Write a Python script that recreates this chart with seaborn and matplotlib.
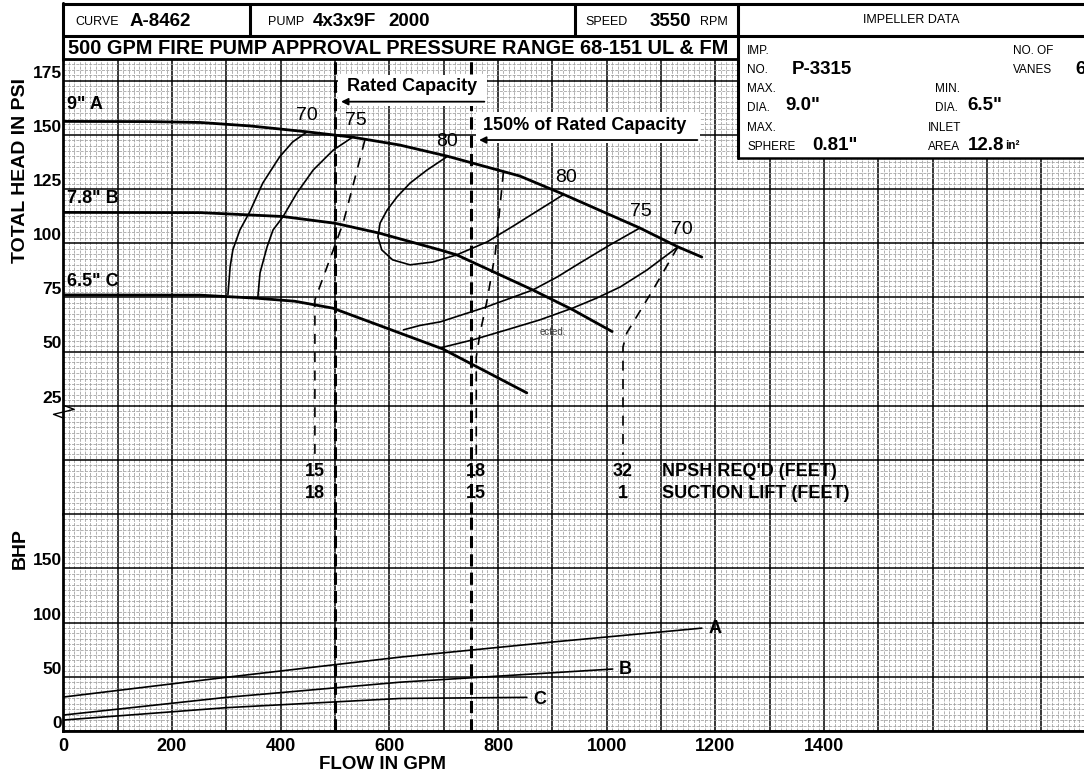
import matplotlib
matplotlib.use('Agg')
import matplotlib.pyplot as plt
import seaborn as sns
from matplotlib.lines import Line2D
from matplotlib.patches import Rectangle
from matplotlib.ticker import MultipleLocator

# head-capacity curves for the three impeller diameters (flow GPM, head PSI)
flow_a = [0, 160, 252, 344, 448, 533, 619, 706, 840, 919, 1061, 1131, 1175]
head_a = [156.2, 156.1, 155.7, 154.1, 151.4, 148.9, 145.3, 140.2, 131.0, 122.7, 107.0, 98.3, 93.6]
flow_b = [0, 252, 404, 500, 582, 693, 724, 864, 938, 1010]
head_b = [114.2, 114.1, 112.3, 109.2, 104.6, 96.9, 94.6, 78.4, 69.2, 59.2]
flow_c = [0, 252, 356, 426, 496, 698, 853]
head_c = [76.1, 76.0, 74.6, 73.2, 70.0, 51.2, 30.9]

# iso-efficiency lines
eff70l_q = [303, 307, 312, 325, 343, 367, 398, 422, 448]
eff70l_h = [76.3, 89.0, 96.9, 106.1, 114.4, 127.7, 139.8, 146.7, 151.3]
eff75l_q = [358, 362, 375, 386, 404, 430, 460, 497, 533]
eff75l_h = [75.0, 86.3, 98.3, 106.1, 112.1, 123.2, 133.8, 143.0, 149.0]
eff80_q = [706, 669, 638, 614, 596, 583, 579, 586, 606, 638, 680, 724, 780, 828, 919]
eff80_h = [139.9, 133.7, 127.7, 121.3, 115.3, 109.3, 102.9, 96.9, 92.3, 90.0, 91.3, 94.6, 100.6, 107.9, 122.2]
eff75r_q = [1061, 1006, 951, 909, 864, 779, 694, 656, 626]
eff75r_h = [107.0, 99.2, 90.9, 84.4, 78.4, 70.6, 63.7, 62.0, 60.0]
eff70r_q = [1131, 1074, 1025, 982, 938, 877, 816, 754, 694]
eff70r_h = [98.3, 87.6, 79.8, 74.7, 70.1, 64.6, 60.0, 55.4, 51.7]

# NPSH required lines (dashed)
npsh1_q = [555, 515, 463, 463]
npsh1_h = [147.6, 109.3, 73.8, 2.3]
npsh2_q = [810, 795, 780, 767, 760, 760]
npsh2_h = [132.9, 95.5, 73.8, 58.6, 47.5, 0]
npsh3_q = [1131, 1085, 1037, 1030, 1030]
npsh3_h = [98.3, 78.4, 58.6, 52.1, 2.3]
npsh_req = ['15', '18', '32']
suction_lift = ['18', '15', '1']

# brake horsepower curves
bhp_a_q = [0, 300, 620, 900, 1175]
bhp_a = [31.3, 49.5, 68.1, 82.0, 94.8]
bhp_b_q = [0, 300, 620, 1011]
bhp_b = [14.7, 31.0, 45.0, 57.1]
bhp_c_q = [0, 300, 620, 853]
bhp_c = [10.1, 21.5, 30.0, 31.0]

rated_flow = 500
flow_150 = 750

sns.set_style('white')
plt.rcParams['font.family'] = ['Liberation Sans', 'DejaVu Sans']
plt.rcParams['text.color'] = 'black'
plt.rcParams['xtick.color'] = 'black'
plt.rcParams['ytick.color'] = 'black'
plt.rcParams['axes.labelcolor'] = 'black'

W, H = 1084, 778
fig = plt.figure(figsize=(W / 100, H / 100), dpi=100)


def fx(px):
    return px / W


def fy(py):
    return 1 - py / H


X0 = 63.3
ax_h = fig.add_axes([fx(X0), fy(514), 1 - fx(X0), (514 - 59) / H])
ax_b = fig.add_axes([fx(X0), fy(731), 1 - fx(X0), (731 - 514) / H])
qmax = (W - X0) / 0.5434

for ax in (ax_h, ax_b):
    ax.set_xlim(0, qmax)
    ax.set_axisbelow(True)
    ax.xaxis.set_minor_locator(MultipleLocator(10))
    ax.grid(which='major', color='black', lw=1.1)
    ax.grid(which='minor', color='#9c9c9c', lw=0.55, ls=(0, (4, 1.6)))
    ax.tick_params(which='both', length=0)
    for s in ax.spines.values():
        s.set_color('black')
        s.set_linewidth(2)
    ax.spines['right'].set_visible(False)

ax_h.spines['bottom'].set_visible(False)
ax_b.spines['top'].set_visible(False)

# head axis
ax_h.set_ylim(-25, 185)
ax_h.yaxis.set_minor_locator(MultipleLocator(2.5))
head_ticks = list(range(-25, 176, 25))
ax_h.set_yticks(head_ticks, labels=[str(t) if t > 0 else '' for t in head_ticks],
                va='bottom', fontweight='bold', fontsize=12.5)
ax_h.set_xticks(range(0, 1879, 100))
ax_h.tick_params(labelbottom=False, pad=1)
ax_h.set_ylabel('TOTAL HEAD IN PSI', fontweight='bold', fontsize=14)
ax_h.yaxis.set_label_coords(-0.034, 0.755)

# bhp axis
ax_b.set_ylim(0, 200)
ax_b.yaxis.set_minor_locator(MultipleLocator(5))
ax_b.set_yticks([0, 50, 100, 150, 200], labels=['0', '50', '100', '150', ''],
                va='bottom', fontweight='bold', fontsize=12.5)
xt = list(range(0, 1879, 100))
ax_b.set_xticks(xt, labels=[str(t) if t % 200 == 0 and t <= 1400 else '' for t in xt],
                fontweight='bold', fontsize=13)
ax_b.tick_params(axis='y', pad=1)
ax_b.tick_params(axis='x', pad=5)
ax_b.set_ylabel('BHP', fontweight='bold', fontsize=14)
ax_b.yaxis.set_label_coords(-0.034, 0.84)
ax_b.set_xlabel('FLOW IN GPM', fontweight='bold', fontsize=13.5)
ax_b.xaxis.set_label_coords(0.313, -0.115)

# curves
for q, h in [(flow_a, head_a), (flow_b, head_b), (flow_c, head_c)]:
    sns.lineplot(x=q, y=h, ax=ax_h, color='black', linewidth=2.0, sort=False, estimator=None, zorder=5)
for q, h in [(eff70l_q, eff70l_h), (eff75l_q, eff75l_h), (eff80_q, eff80_h),
             (eff75r_q, eff75r_h), (eff70r_q, eff70r_h)]:
    sns.lineplot(x=q, y=h, ax=ax_h, color='black', linewidth=1.2, sort=False, estimator=None, zorder=5)
for q, h in [(npsh1_q, npsh1_h), (npsh2_q, npsh2_h), (npsh3_q, npsh3_h)]:
    sns.lineplot(x=q, y=h, ax=ax_h, color='black', linewidth=1.2, linestyle=(0, (6, 5)),
                 sort=False, estimator=None, zorder=5)
for q, b in [(bhp_a_q, bhp_a), (bhp_b_q, bhp_b), (bhp_c_q, bhp_c)]:
    sns.lineplot(x=q, y=b, ax=ax_b, color='black', linewidth=1.2, sort=False, estimator=None, zorder=5)

for ax in (ax_h, ax_b):
    for f in (rated_flow, flow_150):
        ax.axvline(f, color='black', lw=2.2, ls=(0, (4, 2)), zorder=6)

# labels on the head chart
lbl = dict(fontweight='bold', fontsize=13, va='center', ha='left', zorder=7)
ax_h.text(7, 163.8, '9" A', **lbl)
ax_h.text(7, 120.4, '7.8" B', **lbl)
ax_h.text(7, 82.1, '6.5" C', **lbl)
eff = dict(fontsize=14, ha='center', va='center', zorder=7)
ax_h.text(448, 158.7, '70', **eff)
ax_h.text(539, 156.4, '75', **eff)
ax_h.text(706, 146.7, '80', **eff)
ax_h.text(925, 130.5, '80', **eff)
ax_h.text(1063, 114.4, '75', **eff)
ax_h.text(1139, 106.1, '70', **eff)
ax_h.text(877, 59, 'ected.', fontsize=7, color='#444444', ha='left', va='center')

for q, r, s in zip([463, 760, 1030], npsh_req, suction_lift):
    ax_h.text(q, -5.5, r, ha='center', va='center', fontweight='bold', fontsize=13, zorder=7)
    ax_h.text(q, -15.7, s, ha='center', va='center', fontweight='bold', fontsize=13, zorder=7)
ax_h.text(1102, -5.5, "NPSH REQ'D (FEET)", ha='left', va='center', fontweight='bold', fontsize=13, zorder=7)
ax_h.text(1102, -15.7, 'SUCTION LIFT (FEET)', ha='left', va='center', fontweight='bold', fontsize=13, zorder=7)

# rated capacity callouts
ax_h.add_patch(Rectangle((506, 163.5), 274, 14.3, facecolor='white', edgecolor='none', zorder=6.5))
ax_h.text(641, 172.1, 'Rated Capacity', ha='center', va='center', fontweight='bold', fontsize=13, zorder=7)
ax_h.annotate('', xy=(506, 165.3), xytext=(780, 165.3),
              arrowprops=dict(arrowstyle='-|>', lw=1.3, color='black', mutation_scale=10), zorder=7)
ax_h.add_patch(Rectangle((760, 146.3), 412, 14.2, facecolor='white', edgecolor='none', zorder=6.5))
ax_h.text(960, 154.5, '150% of Rated Capacity', ha='center', va='center', fontweight='bold', fontsize=13, zorder=7)
ax_h.annotate('', xy=(760, 147.6), xytext=(1172, 147.6),
              arrowprops=dict(arrowstyle='-|>', lw=1.3, color='black', mutation_scale=10), zorder=7)

# axis break mark under 25
ax_h.plot([0, 20, -18, 0], [25.2, 23.3, 21.0, 19.3], color='black', lw=1, clip_on=False, zorder=8)

# bhp curve labels
bl = dict(fontweight='bold', fontsize=13, ha='center', va='center', zorder=7)
ax_b.text(1199, 94.9, 'A', **bl)
ax_b.text(1034, 57.1, 'B', **bl)
ax_b.text(877, 28.6, 'C', **bl)

# header block
tf = fig.transFigure


def hline(x1, x2, y, lw=2.2):
    fig.add_artist(Line2D([fx(x1), fx(x2)], [fy(y), fy(y)], transform=tf, color='black', lw=lw, zorder=10))


def vline(x, y1, y2, lw=2.2):
    fig.add_artist(Line2D([fx(x), fx(x)], [fy(y1), fy(y2)], transform=tf, color='black', lw=lw, zorder=10))


fig.add_artist(Rectangle((fx(738), fy(158)), 1 - fx(738), (158 - 36) / H, transform=tf,
                         facecolor='white', edgecolor='none', zorder=9))
hline(63, W, 4)
hline(63, W, 36)
hline(738, W, 158, lw=1.8)
vline(63, 3, 60)
vline(250, 4, 36)
vline(575, 4, 36)
vline(738, 4, 158)


def ftext(px, py, s, size=9, bold=False, **kw):
    fig.text(fx(px), fy(py), s, fontsize=size, fontweight='bold' if bold else 'normal',
             va='center', zorder=11, **kw)


ftext(75, 22, 'CURVE')
ftext(130, 21, 'A-8462', 13.5, True)
ftext(268, 22, 'PUMP')
ftext(313, 21, '4x3x9F', 13.5, True)
ftext(388, 21, '2000', 13.5, True)
ftext(585, 22, 'SPEED')
ftext(650, 21, '3550', 13.5, True)
ftext(700, 22, 'RPM')
ftext(911, 20, 'IMPELLER DATA', 9, ha='center')
ftext(68, 48, '500 GPM FIRE PUMP APPROVAL PRESSURE RANGE 68-151 UL & FM', 14.4, True)

ftext(747, 51, 'IMP.', 8.5)
ftext(747, 70, 'NO.', 8.5)
ftext(792, 69, 'P-3315', 13.5, True)
ftext(1013, 51, 'NO. OF', 8.5)
ftext(1013, 70, 'VANES', 8.5)
ftext(1075, 69, '6', 13.5, True)
ftext(747, 89, 'MAX.', 8.5)
ftext(747, 108, 'DIA.', 8.5)
ftext(785, 106, '9.0"', 13.5, True)
ftext(935, 89, 'MIN.', 8.5)
ftext(935, 108, 'DIA.', 8.5)
ftext(967, 106, '6.5"', 13.5, True)
ftext(747, 128, 'MAX.', 8.5)
ftext(747, 147, 'SPHERE', 8.5)
ftext(812, 145, '0.81"', 13.5, True)
ftext(928, 128, 'INLET', 8.5)
ftext(928, 147, 'AREA', 8.5)
ftext(968, 145, '12.8', 13.5, True)
ftext(1005, 146, 'in²', 8.5, True)

fig.savefig('out.png', dpi=100)
